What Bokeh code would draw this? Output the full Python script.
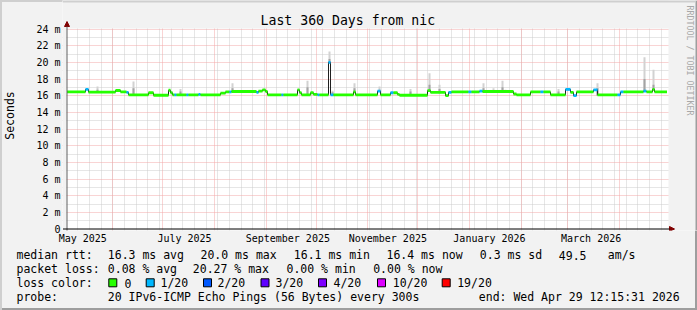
import numpy as np
import pandas as pd
from math import pi
from bokeh.plotting import figure
from bokeh.layouts import column
from bokeh.models import (FixedTicker, Grid, Label, Arrow, NormalHead, Range1d, ColumnDataSource)
from bokeh.core.properties import value
from bokeh.embed import file_html
from bokeh.resources import INLINE

END = pd.Timestamp("2026-04-29 12:15:31")
START = END - pd.Timedelta(days=360)
SPAN_DAYS = 360

# ---------------- data ----------------
# median rtt: step segments, start offset in days from START, value in ms, loss bucket index
seg_day = [0.0, 11.1, 12.9, 29.1, 32.1, 35.7, 36.9, 48.9, 51.9, 60.9, 62.1, 63.3, 64.5, 65.7,
           71.7, 72.9, 78.9, 80.1, 92.1, 95.1, 97.5, 98.7, 113.7, 114.9, 117.3, 119.1, 120.3,
           128.7, 129.9, 138.3, 139.5, 140.7, 146.1, 147.9, 150.3, 151.5, 156.9, 158.1, 159.9,
           171.9, 173.1, 186.3, 188.1, 194.1, 195.9, 198.3, 199.5, 216.3, 218.1, 227.1, 228.9,
           230.7, 240.9, 242.7, 247.5, 249.3, 267.9, 269.7, 278.1, 284.1, 285.9, 290.1, 299.1,
           302.1, 303.9, 305.7, 315.9, 318.3, 330.3, 332.1, 333.9, 345.9, 347.7, 351.3, 352.5]
seg_ms = [16.45, 16.75, 16.42, 16.62, 16.45, 16.40, 16.10, 16.35, 16.05, 16.65, 16.35, 16.10, 16.10, 16.10,
          16.10, 16.10, 16.15, 16.10, 16.30, 16.45, 16.45, 16.50, 16.40, 16.55, 16.70, 16.50, 16.10,
          16.10, 16.10, 16.70, 16.35, 16.10, 16.35, 16.15, 16.10, 16.10, 20.00, 16.10, 16.10,
          16.45, 16.10, 16.55, 16.10, 16.35, 16.35, 16.15, 16.05, 16.60, 16.40, 16.00, 16.40,
          16.45, 16.45, 16.45, 16.55, 16.50, 16.20, 16.10, 16.45, 16.45, 16.45, 16.10, 16.75,
          16.40, 16.00, 16.45, 16.70, 16.10, 16.10, 16.45, 16.45, 16.55, 16.45, 16.75, 16.45]
seg_loss = [0, 1, 0, 0, 0, 1, 0, 0, 0, 0, 0, 0, 1, 0,
            1, 0, 1, 0, 0, 0, 1, 0, 1, 0, 0, 0, 0,
            1, 0, 0, 0, 0, 0, 0, 1, 0, 1, 1, 0,
            0, 0, 1, 0, 1, 0, 0, 0, 0, 0, 0, 1,
            0, 1, 0, 1, 0, 0, 0, 0, 1, 0, 0, 1,
            0, 1, 0, 1, 0, 1, 1, 0, 1, 0, 0, 0]

# smoke (spread of the pings): day offset, upper edge and denser part (ms)
smoke_day = [18.3, 30.3, 39.9, 68.1, 99.3, 144.3, 157.5, 159.3, 172.5, 187.5, 206.1, 217.5,
             223.5, 249.9, 255.9, 261.3, 263.1, 294.9, 300.9, 318.3, 346.5, 351.9]
smoke_top = [17.1, 16.7, 17.7, 16.8, 17.5, 17.8, 21.3, 16.6, 17.5, 17.1, 16.8, 18.7,
             17.3, 17.5, 16.9, 17.8, 16.7, 16.8, 16.9, 17.5, 20.6, 19.1]
smoke_mid = [16.7, 16.5, 16.9, 16.5, 16.9, 17.0, 20.4, 16.4, 16.9, 16.7, 16.5, 17.3,
             16.8, 16.9, 16.6, 17.0, 16.5, 16.5, 16.6, 16.9, 18.0, 17.3]

y_ticks = [0, 2, 4, 6, 8, 10, 12, 14, 16, 18, 20, 22, 24]
y_tick_labels = ["0", "2 m", "4 m", "6 m", "8 m", "10 m", "12 m", "14 m", "16 m", "18 m",
                 "20 m", "22 m", "24 m"]
x_label_dates = ["2025-05-14", "2025-07-14", "2025-09-14", "2025-11-13", "2026-01-13", "2026-03-15"]
x_label_texts = ["May 2025", "July 2025", "September 2025", "November 2025", "January 2026",
                 "March 2026"]

loss_names = ["0", "1/20", "2/20", "3/20", "4/20", "10/20", "19/20"]
loss_colors = ["#26ff00", "#00b8ff", "#0059ff", "#5e00ff", "#7e00ff", "#dd00ff", "#ff0000"]

stats_rtt = ["16.3 ms avg", "20.0 ms max", "16.1 ms min", "16.4 ms now", "0.3 ms sd", "49.5", "am/s"]
stats_loss = ["0.08 % avg", "20.27 % max", "0.00 % min", "0.00 % now"]
probe_text = "20 IPv6-ICMP Echo Pings (56 Bytes) every 300s"
end_text = "end: Wed Apr 29 12:15:31 2026"
title_text = "Last 360 Days from nic"
watermark = "RRDTOOL / TOBI OETIKER"

# ---------------- layout geometry (pixels) ----------------
W, H = 697, 310
H1 = 248                     # chart part
H2 = H - H1                  # legend part
X0, Y0 = 66.5, 228.5         # pixel of (day 0, 0 ms)
PX_DAY = 600.0 / SPAN_DAYS
PX_MS = 200.0 / 24.0
F_LEFT, F_BOTTOM = 62, 230   # frame edges of chart part (frame reaches top and right edge)
FONT = "DejaVu Sans Mono"
BACK = "#f2f2f2"


def sx(px):
    return (px - X0) / PX_DAY


def sy(py):
    return (Y0 - py) / PX_MS


def day_of(ts):
    return (pd.Timestamp(ts) - START) / pd.Timedelta(days=1)


p = figure(width=W, height=H1, output_backend="svg", toolbar_location=None,
           x_range=Range1d(sx(F_LEFT), sx(W)), y_range=Range1d(sy(F_BOTTOM), sy(0)),
           min_border_left=F_LEFT, min_border_right=0, min_border_top=0,
           min_border_bottom=H1 - F_BOTTOM)
p.background_fill_color = "#ffffff"
p.border_fill_alpha = 0.0
p.outline_line_color = None

# grids
p.xgrid.visible = False
p.ygrid.visible = False
weeks = pd.date_range(START.normalize(), END, freq="W-SUN")
week_days = [day_of(t) for t in weeks if 0 < day_of(t) < SPAN_DAYS]
months = pd.date_range("2025-06-01", END, freq="MS")
month_days = [day_of(t) for t in months]
minor_y = [v for v in range(1, 24, 2)]

GRID_MINOR = "#cccccc"
GRID_MAJOR = "#f3a9a9"
p.add_layout(Grid(dimension=0, ticker=FixedTicker(ticks=week_days), grid_line_color=GRID_MINOR,
                  grid_line_dash="1 1"))
p.add_layout(Grid(dimension=1, ticker=FixedTicker(ticks=minor_y), grid_line_color=GRID_MINOR,
                  grid_line_dash="1 1"))
p.add_layout(Grid(dimension=0, ticker=FixedTicker(ticks=month_days), grid_line_color=GRID_MAJOR,
                  grid_line_dash="1 1"))
p.add_layout(Grid(dimension=1, ticker=FixedTicker(ticks=y_ticks[1:]), grid_line_color=GRID_MAJOR,
                  grid_line_dash="1 1"))

# background outside the drawing canvas (inside the frame area)
xr0, xr1 = sx(F_LEFT), sx(W)
yr0, yr1 = sy(F_BOTTOM), sy(0)
mask = ColumnDataSource(dict(
    left=[xr0, sx(668), xr0, xr0],
    right=[sx(66), xr1, xr1, xr1],
    bottom=[yr0, yr0, sy(28), yr0],
    top=[yr1, yr1, yr1, sy(229)]))
p.quad(left="left", right="right", bottom="bottom", top="top", source=mask,
       fill_color=BACK, line_color=None)
shade = ColumnDataSource(dict(
    left=[sx(695), xr0], right=[xr1, sx(695)],
    bottom=[yr0, sy(2)], top=[yr1, yr1],
    color=["#9e9e9e", "#cfcfcf"]))
p.quad(left="left", right="right", bottom="bottom", top="top", source=shade,
       fill_color="color", line_color=None)

# axes
xl_days = [day_of(d) for d in x_label_dates]
p.xaxis.ticker = FixedTicker(ticks=xl_days)
p.xaxis.major_label_overrides = {d: t for d, t in zip(xl_days, x_label_texts)}
p.yaxis.ticker = FixedTicker(ticks=y_ticks)
p.yaxis.major_label_overrides = {v: t for v, t in zip(y_ticks, y_tick_labels)}
for ax in (p.xaxis, p.yaxis):
    ax.major_label_text_font = FONT
    ax.major_label_text_font_size = "10px"
    ax.major_label_text_color = "#000000"
    ax.major_tick_out = 0
    ax.major_tick_in = 0
    ax.minor_tick_out = 0
    ax.minor_tick_in = 0
    ax.axis_line_color = None
p.xaxis.major_label_standoff = 2
p.yaxis.major_label_standoff = 2
p.yaxis.axis_label = "Seconds"
p.yaxis.axis_label_text_font = FONT
p.yaxis.axis_label_text_font_size = "11.5px"
p.yaxis.axis_label_text_font_style = "normal"
p.yaxis.axis_label_text_color = "#000000"
p.yaxis.axis_label_standoff = 16

# smoke
seg_arr = np.array(seg_day)
idx = np.searchsorted(seg_arr, np.array(smoke_day), side="right") - 1
smoke_base = [seg_ms[i] - 0.1 for i in idx]
smoke_src = ColumnDataSource(dict(x=smoke_day, top=smoke_top, mid=smoke_mid, base=smoke_base))
p.vbar(x="x", width=1.2, bottom="base", top="top", source=smoke_src, fill_color="#d2d2d2",
       line_color=None)
p.vbar(x="x", width=1.2, bottom="base", top="mid", source=smoke_src, fill_color="#a4a4a4",
       line_color=None)

# median line (thin dark) and loss-coloured band
step_x = seg_day + [SPAN_DAYS]
step_y = seg_ms + [seg_ms[-1]]
p.step(step_x, step_y, mode="after", line_color="#202020", line_width=1)
band = ColumnDataSource(dict(
    left=seg_day, right=seg_day[1:] + [SPAN_DAYS],
    bottom=[v - 0.17 for v in seg_ms], top=[v + 0.17 for v in seg_ms],
    color=[loss_colors[l] for l in seg_loss]))
p.quad(left="left", right="right", bottom="bottom", top="top", fill_color="color",
       line_color=None, source=band)

# axis lines with arrow heads
p.add_layout(Arrow(x_start=0, y_start=sy(231.5), x_end=0, y_end=sy(21), line_color="#606060",
                   line_width=1,
                   end=NormalHead(size=5, fill_color="#800000", line_color="#800000")))
p.add_layout(Arrow(x_start=sx(62.5), y_start=0, x_end=sx(674), y_end=0, line_color="#000000",
                   line_width=1,
                   end=NormalHead(size=5, fill_color="#800000", line_color="#800000")))

# title and watermark
p.add_layout(Label(x=sx(260), y=sy(20), text=title_text, text_align="left",
                   text_baseline="middle", text_font=FONT, text_font_size="13.2px",
                   text_color="#000000"))
p.add_layout(Label(x=sx(689), y=sy(60), text=watermark, angle=-pi / 2,
                   text_align="center", text_baseline="middle", text_font=FONT,
                   text_font_size="8.3px", text_color="#a8a8a8"))

# ---------------- legend part ----------------
q = figure(width=W, height=H2, output_backend="svg", toolbar_location=None,
           x_range=Range1d(0, W), y_range=Range1d(H2, 0), min_border=0,
           x_axis_location=None, y_axis_location=None)
q.grid.visible = False
q.outline_line_color = None
q.background_fill_alpha = 0.0
q.border_fill_alpha = 0.0

# keep each part's frame where it is (no frame alignment between the two parts)
for fig in (p, q):
    if "frame_align" in fig.properties():
        fig.frame_align = False

r1, r2, r3, r4 = 254.8 - H1, 268.8 - H1, 282.8 - H1, 296.5 - H1
tx, ty, tt = [], [], []


def add_text(t, px, py):
    tx.append(px)
    ty.append(py)
    tt.append(t)


add_text("median rtt:", 16, r1)
for t, px in zip(stats_rtt, [107.3, 200, 293.3, 386, 479.3, 558.3, 607.3]):
    add_text(t, px, r1)
add_text("packet loss:", 16, r2)
for t, px in zip(stats_loss, [107.3, 192.3, 286, 372.7]):
    add_text(t, px, r2)
add_text("loss color:", 16, r3)
sw_left = [108.3, 145.7, 203, 260.5, 318, 377, 441.7]
txt_left = [124, 160, 217, 275, 333, 392.3, 456.7]
for name, tl in zip(loss_names, txt_left):
    add_text(name, tl, r3)
add_text("probe:", 16, r4)
add_text(probe_text, 107.3, r4)
add_text(end_text, 478.3, r4)

q.text(x=tx, y=ty, text=tt, text_font=value(FONT), text_font_size=value("11.5px"),
       text_align="left", text_baseline="middle", text_color="#000000")
sw = ColumnDataSource(dict(left=sw_left, right=[v + 8 for v in sw_left],
                           top=[r3 - 4.5] * len(sw_left), bottom=[r3 + 3.5] * len(sw_left),
                           color=loss_colors))
q.quad(left="left", right="right", top="top", bottom="bottom", source=sw,
       fill_color="color", line_color="#000000", line_width=1)

layout = column(p, q, spacing=0,
                styles={"background-color": BACK,
                        "box-shadow": "inset 2px 2px 0 0 #cfcfcf, inset -2px -2px 0 0 #9e9e9e"})

open("out.html", "w").write(file_html(layout, INLINE))
